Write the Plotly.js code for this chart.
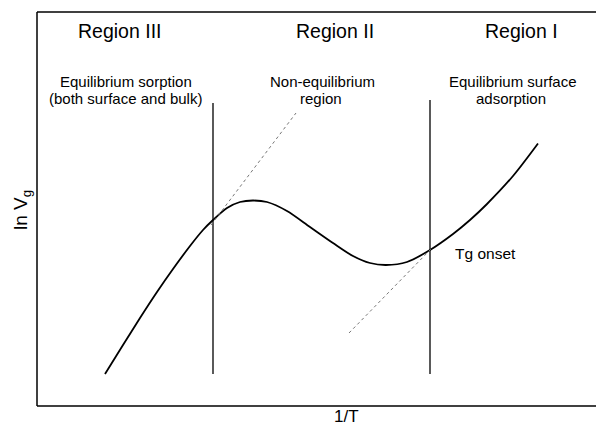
<!DOCTYPE html>
<html>
<head>
<meta charset="utf-8">
<script src="https://cdn.plot.ly/plotly-3.0.1.min.js"></script>
<style>html,body{margin:0;padding:0;background:#fff;overflow:hidden;}#chart{width:596px;height:426px;}</style>
</head>
<body>
<div id="chart"></div>
<script>
// Schematic curve: ln Vg versus 1/T (arbitrary units)
var curveX = [68, 86, 103, 120, 136, 153, 166, 176, 190, 203, 216, 230, 250, 273, 296, 316, 333, 349, 370, 393, 416, 433, 450, 476, 501];
var curveY = [32, 61, 88, 114, 137, 160, 176, 186, 198, 204, 205.5, 204, 195, 179, 163, 150, 143, 141, 144, 156, 172, 186, 202, 230, 262.5];

// Region boundaries (vertical lines)
var boundaryX = [176, 393];
var boundaryYBottom = [32, 32];
var boundaryYTop = [303, 306];

// Tangent (dotted) lines
var tangent1X = [174, 259];
var tangent1Y = [181, 293];
var tangent2X = [312, 394];
var tangent2Y = [73, 157];

// Labels
var regionLabels = ["Region III", "Region II", "Region I"];
var descLine1 = ["Equilibrium sorption", "Non-equilibrium", "Equilibrium surface"];
var descLine2 = ["(both surface and bulk)", "region", "adsorption"];
var onsetLabel = "Tg onset";
var xTitle = "1/T";
var yTitle = "ln V<sub>g</sub>";

var FONT = "'Liberation Sans', Arial, Helvetica, sans-serif";

var traces = [];
traces.push({x: curveX, y: curveY, mode: 'lines', line: {color: '#000', width: 1.8, shape: 'spline', smoothing: 0.8}, hoverinfo: 'skip'});
for (var i = 0; i < boundaryX.length; i++) {
  traces.push({x: [boundaryX[i], boundaryX[i]], y: [boundaryYBottom[i], boundaryYTop[i]], mode: 'lines', line: {color: '#000', width: 1.3}, hoverinfo: 'skip'});
}
traces.push({x: tangent1X, y: tangent1Y, mode: 'lines', line: {color: '#777', width: 1, dash: 'dot'}, hoverinfo: 'skip'});
traces.push({x: tangent2X, y: tangent2Y, mode: 'lines', line: {color: '#777', width: 1, dash: 'dot'}, hoverinfo: 'skip'});

var regionPosX = [82, 298, 484];
var line1PosX = [89, 285, 476];
var line2PosX = [88.5, 284, 474];
var ann = [];
for (var j = 0; j < 3; j++) {
  ann.push({x: regionPosX[j], y: 375, xref: 'x', yref: 'y', text: regionLabels[j], showarrow: false, xanchor: 'center', yanchor: 'middle', font: {family: FONT, size: 19.5, color: '#000'}});
  ann.push({x: line1PosX[j], y: 324.5, xref: 'x', yref: 'y', text: descLine1[j], showarrow: false, borderpad: 0, xanchor: 'center', yanchor: 'middle', font: {family: FONT, size: 15, color: '#000'}});
  ann.push({x: line2PosX[j], y: 308, xref: 'x', yref: 'y', text: descLine2[j], showarrow: false, borderpad: 0, xanchor: 'center', yanchor: 'middle', font: {family: FONT, size: 15, color: '#000'}});
}
ann.push({x: 448, y: 153, xref: 'x', yref: 'y', text: onsetLabel, showarrow: false, xanchor: 'center', yanchor: 'middle', font: {family: FONT, size: 15.5, color: '#000'}});
ann.push({x: 309, y: 0, xref: 'x', yref: 'paper', text: xTitle, showarrow: false, borderpad: 0, xanchor: 'center', yanchor: 'top', font: {family: FONT, size: 17, color: '#000'}});
ann.push({x: -0.0268, y: 0.4975, xref: 'paper', yref: 'paper', text: yTitle, showarrow: false, textangle: -90, xanchor: 'center', yanchor: 'middle', font: {family: FONT, size: 19, color: '#000'}});

var frameLine = {color: '#000', width: 1.5};
var layout = {
  width: 596, height: 426,
  margin: {l: 37, r: 0, t: 12, b: 20, pad: 0},
  paper_bgcolor: '#fff', plot_bgcolor: '#fff',
  showlegend: false,
  xaxis: {range: [0, 559], showgrid: false, zeroline: false, showticklabels: false, ticks: '', showline: false, fixedrange: true},
  yaxis: {range: [0, 394], showgrid: false, zeroline: false, showticklabels: false, ticks: '', showline: false, fixedrange: true},
  shapes: [
    {type: 'line', xref: 'paper', yref: 'paper', x0: 0, x1: 1, y0: 1, y1: 1, layer: 'above', line: frameLine},
    {type: 'line', xref: 'paper', yref: 'paper', x0: 0, x1: 1, y0: 0, y1: 0, layer: 'above', line: frameLine},
    {type: 'line', xref: 'paper', yref: 'paper', x0: 0, x1: 0, y0: 0, y1: 1, layer: 'above', line: frameLine}
  ],
  annotations: ann
};

Plotly.newPlot('chart', traces, layout, {displayModeBar: false, staticPlot: true});
</script>
</body>
</html>
